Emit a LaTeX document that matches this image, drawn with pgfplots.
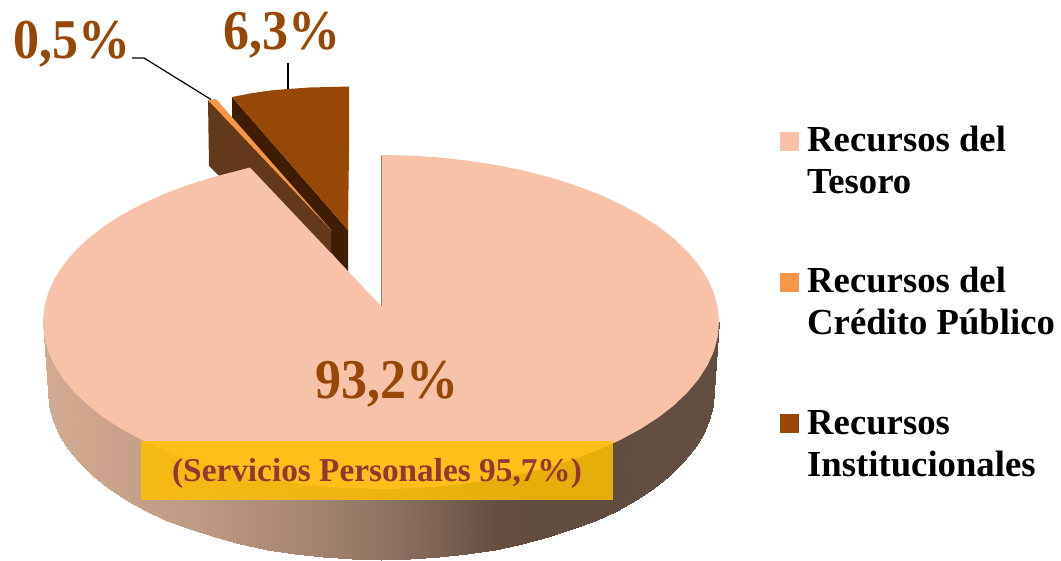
\documentclass[border=0pt]{standalone}
\usepackage{pgfplots}
\pgfplotsset{compat=1.18}
\usepackage{fontspec}
\setmainfont{Liberation Serif}
\definecolor{tesoro}{HTML}{F7C2A7}
\definecolor{credito}{HTML}{F79646}
\definecolor{credside}{HTML}{63391A}
\definecolor{inst}{HTML}{974706}
\definecolor{instside}{HTML}{3F1D03}
\definecolor{gold}{HTML}{FFBF00}
\definecolor{boxtext}{HTML}{943634}
\begin{document}
\begin{tikzpicture}
\begin{axis}[
  scale only axis, width=1061bp, height=561bp,
  xmin=0, xmax=1061, ymin=0, ymax=561, y dir=reverse,
  colormap={sidewall}{rgb255(43)=(212,170,146) rgb255(200)=(190,153,131) rgb255(300)=(168,135,115) rgb255(400)=(138,111,96) rgb255(500)=(100,78,64) rgb255(530)=(97,77,63) rgb255(719)=(98,78,65)},
  point meta min=43, point meta max=719,
  hide axis, clip=false]
% page extent
\addplot[draw=none] coordinates {(0,0) (1061,561)};
% 6,3 % slice
\addplot[fill=instside,draw=none] coordinates {(232,97) (348,230) (348,272) (232,139)};
\addplot[fill=inst,draw=none] coordinates {(232,97) (250,93.5) (270,90.5) (288,89) (310,87.5) (330,87) (349,86.5) (349,150) (348,230)};
% 0,5 % slice
\addplot[fill=credside,draw=none] coordinates {(208,100) (331,229) (331,270) (217,174) (209,166)};
\addplot[fill=credito,draw=none] coordinates {(208,100) (216,99) (332,231)};
% 93,2 % slice: wall, one patch for each step along the rim
\addplot[patch,patch type=rectangle,shader=interp,point meta=x] coordinates {
 (43,322) (48,322) (48,391) (48,391)
 (48,322) (49.3,322) (49.3,405.7) (48,391)
 (49.3,322) (53.1,322) (53.1,420.3) (49.3,405.7)
 (53.1,322) (59.3,322) (59.3,434.7) (53.1,420.3)
 (59.3,322) (68.1,322) (68.1,448.8) (59.3,434.7)
 (68.1,322) (79.2,322) (79.2,462.4) (68.1,448.8)
 (79.2,322) (92.6,322) (92.6,475.5) (79.2,462.4)
 (92.6,322) (108.2,322) (108.2,487.9) (92.6,475.5)
 (108.2,322) (125.9,322) (125.9,499.6) (108.2,487.9)
 (125.9,322) (145.5,322) (145.5,510.5) (125.9,499.6)
 (145.5,322) (167,322) (167,520.5) (145.5,510.5)
 (167,322) (190,322) (190,529.4) (167,520.5)
 (190,322) (214.5,322) (214.5,537.4) (190,529.4)
 (214.5,322) (240.3,322) (240.3,544.2) (214.5,537.4)
 (240.3,322) (267.1,322) (267.1,549.8) (240.3,544.2)
 (267.1,322) (294.8,322) (294.8,554.2) (267.1,549.8)
 (294.8,322) (323.2,322) (323.2,557.4) (294.8,554.2)
 (323.2,322) (352,322) (352,559.4) (323.2,557.4)
 (352,322) (381,322) (381,560) (352,559.4)
 (381,322) (410,322) (410,559.4) (381,560)
 (410,322) (438.8,322) (438.8,557.4) (410,559.4)
 (438.8,322) (467.2,322) (467.2,554.2) (438.8,557.4)
 (467.2,322) (494.9,322) (494.9,549.8) (467.2,554.2)
 (494.9,322) (521.7,322) (521.7,544.2) (494.9,549.8)
 (521.7,322) (547.5,322) (547.5,537.4) (521.7,544.2)
 (547.5,322) (572,322) (572,529.4) (547.5,537.4)
 (572,322) (595,322) (595,520.5) (572,529.4)
 (595,322) (616.5,322) (616.5,510.5) (595,520.5)
 (616.5,322) (636.1,322) (636.1,499.6) (616.5,510.5)
 (636.1,322) (653.8,322) (653.8,487.9) (636.1,499.6)
 (653.8,322) (669.4,322) (669.4,475.5) (653.8,487.9)
 (669.4,322) (682.8,322) (682.8,462.4) (669.4,475.5)
 (682.8,322) (693.9,322) (693.9,448.8) (682.8,462.4)
 (693.9,322) (702.7,322) (702.7,434.7) (693.9,448.8)
 (702.7,322) (708.9,322) (708.9,420.3) (702.7,434.7)
 (708.9,322) (712.7,322) (712.7,405.7) (708.9,420.3)
 (712.7,322) (714,322) (714,391) (712.7,405.7)
 (714,322) (719,322) (714,391) (714,391)
};
% 93,2 % slice: top
\addplot[fill=tesoro,draw=none] coordinates {
 (381,306) (381,155) (410.5,155.6) (439.7,157.5) (468.5,160.7) (496.6,165.1) (523.8,170.6) (550,177.4) (574.9,185.2) (598.3,194.1) (620,203.9) (639.9,214.7) (657.9,226.2) (673.7,238.5) (687.3,251.4) (698.6,264.9) (707.5,278.8) (713.9,293) (717.7,307.4) (719,322)
 (717.7,336.6) (713.9,351) (707.5,365.2) (698.6,379.1) (687.3,392.6) (673.7,405.5) (657.9,417.8) (639.9,429.3) (620,440.1) (598.3,449.9) (574.9,458.8) (550,466.6) (523.8,473.4) (496.6,478.9) (468.5,483.3) (439.7,486.5) (410.5,488.4) (381,489)
 (351.5,488.4) (322.3,486.5) (293.5,483.3) (265.4,478.9) (238.2,473.4) (212,466.6) (187.1,458.8) (163.7,449.9) (142,440.1) (122.1,429.3) (104.1,417.8) (88.3,405.5) (74.7,392.6) (63.4,379.1) (54.5,365.2) (48.1,351) (44.3,336.6) (43,322)
 (44.3,307.4) (48.1,293) (54.5,278.8) (63.4,264.9) (74.7,251.4) (88.3,238.5) (104.1,226.2) (122.1,214.7) (142,203.9) (163.7,194.1) (187.1,185.2) (212,177.4) (238.2,170.6) (250,167.5)};
\addplot[draw=black!35!tesoro,line width=0.5bp] coordinates {(381,156) (381,306)};
% leader lines
\addplot[black,line width=1.2bp] coordinates {(288,63) (288,89)};
\addplot[black,line width=1.2bp] coordinates {(132,58) (144,58) (211,99.5)};
% yellow box
\addplot[fill=gold,fill opacity=0.85,draw=none] coordinates {(141,441) (613,441) (613,500) (141,500)};
% legend keys
\addplot[fill=tesoro,draw=none] coordinates {(780,132) (799,132) (799,151) (780,151)};
\addplot[fill=credito,draw=none] coordinates {(780,273) (799,273) (799,292) (780,292)};
\addplot[fill=inst,draw=none] coordinates {(780,414) (799,414) (799,433) (780,433)};
% labels
\newcommand{\lab}[1]{\scalebox{1}[1.08]{\fontsize{52bp}{52bp}\selectfont\bfseries\textcolor{inst}{#1}}}
\node[anchor=base,inner sep=0] at (axis cs:71.5,59) {\lab{0,5\%}};
\node[anchor=base,inner sep=0] at (axis cs:282,50) {\lab{6,3\%}};
\node[anchor=base,inner sep=0] at (axis cs:386.5,398) {\lab{93,2\%}};
\node[anchor=base,inner sep=0] at (axis cs:377,481) {\fontsize{33.3bp}{33.3bp}\selectfont\bfseries\textcolor{boxtext}{(Servicios Personales 95,7\%)}};
\newcommand{\leg}[1]{\fontsize{36.7bp}{36.7bp}\selectfont\bfseries #1}
\node[anchor=base west,inner sep=0] at (axis cs:807,151) {\leg{Recursos del}};
\node[anchor=base west,inner sep=0] at (axis cs:807,193) {\leg{Tesoro}};
\node[anchor=base west,inner sep=0] at (axis cs:807,292) {\leg{Recursos del}};
\node[anchor=base west,inner sep=0] at (axis cs:807,334) {\leg{Crédito Público}};
\node[anchor=base west,inner sep=0] at (axis cs:807,434) {\leg{Recursos}};
\node[anchor=base west,inner sep=0] at (axis cs:807,476) {\leg{Institucionales}};
\end{axis}
\end{tikzpicture}
\end{document}
